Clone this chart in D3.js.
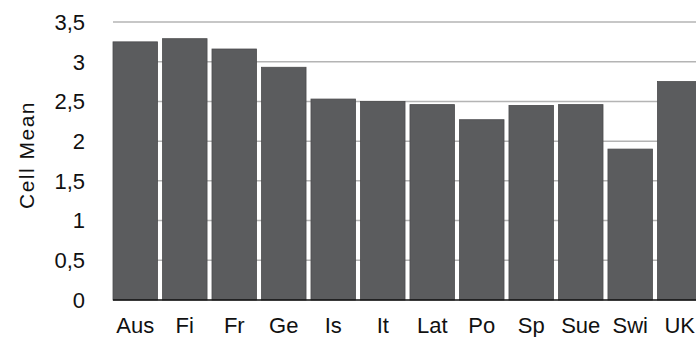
<!DOCTYPE html>
<html><head><meta charset="utf-8">
<script src="https://cdn.jsdelivr.net/npm/d3@7"></script>
<style>body{margin:0;background:#fff}svg{display:block}text{font-family:"Liberation Sans",Arial,sans-serif;fill:#111}</style>
</head><body><svg id="c" width="696" height="337"></svg>
<script>
const categories = ["Aus","Fi","Fr","Ge","Is","It","Lat","Po","Sp","Sue","Swi","UK"];
const values = [3.25,3.29,3.16,2.93,2.53,2.50,2.46,2.27,2.45,2.46,1.90,2.75];
const yTicks = [0,0.5,1,1.5,2,2.5,3,3.5];
const yTickLabels = ["0","0,5","1","1,5","2","2,5","3","3,5"];
const yTitle = "Cell Mean";

const svg = d3.select("#c");
const mLeft = 113, mRight = 702, mTop = 22, mBottom = 300;
const x = d3.scaleBand().domain(categories).range([mLeft, mRight]).paddingInner(0.1).paddingOuter(0);
const y = d3.scaleLinear().domain([0,3.5]).range([mBottom, mTop]);

// gridlines
svg.append("g").selectAll("line").data(yTicks.filter(d=>d>0)).join("line")
  .attr("x1", mLeft).attr("x2", 696).attr("y1", d=>y(d)).attr("y2", d=>y(d))
  .attr("stroke", "#b4b4b4").attr("stroke-width", 1.5);

// bars
svg.append("g").selectAll("rect").data(categories).join("rect")
  .attr("x", d=>x(d)).attr("width", x.bandwidth())
  .attr("y", (d,i)=>y(values[i])).attr("height", (d,i)=>mBottom - y(values[i]))
  .attr("fill", "#5b5c5e").attr("stroke", "#4c4c4e").attr("stroke-width", 0.8);

// baseline
svg.append("line").attr("x1", mLeft).attr("x2", 696).attr("y1", mBottom).attr("y2", mBottom)
  .attr("stroke", "#111").attr("stroke-width", 1.5);

// y labels
svg.append("g").selectAll("text").data(yTicks).join("text")
  .attr("x", 85).attr("y", d=>y(d)).attr("dy", "0.36em").attr("text-anchor", "end")
  .attr("font-size", 22).text((d,i)=>yTickLabels[i]);

// x labels
svg.append("g").selectAll("text").data(categories).join("text")
  .attr("x", d=>x(d)+x.bandwidth()/2).attr("y", 333).attr("text-anchor", "middle")
  .attr("font-size", 22).text(d=>d);

// y title
svg.append("text").attr("transform", "translate(34,155) rotate(-90)").attr("text-anchor", "middle")
  .attr("font-size", 21).attr("letter-spacing", 1.5).text(yTitle);
</script></body></html>
